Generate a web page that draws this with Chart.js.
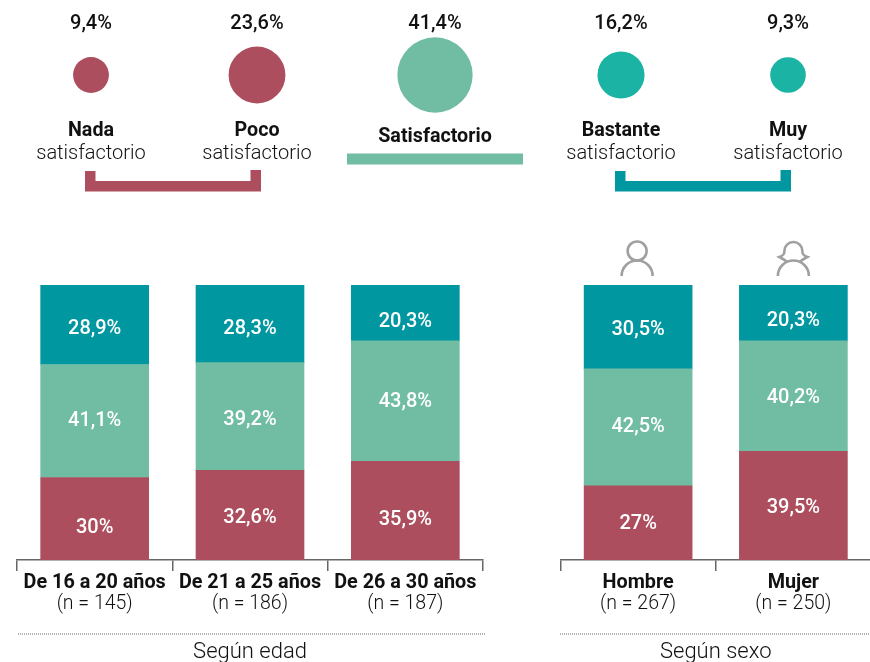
<!DOCTYPE html>
<html lang="es">
<head>
<meta charset="utf-8">
<title>Satisfacción</title>
<script src="https://cdn.jsdelivr.net/npm/chart.js@4"></script>
<style>
html,body{margin:0;padding:0;background:#fff;width:870px;height:662px;overflow:hidden}
canvas{position:absolute;display:block}
</style>
</head>
<body>
<canvas id="top"></canvas>
<canvas id="age"></canvas>
<canvas id="sex"></canvas>
<script>
// ---- data ----
const levelNames = ['Nada', 'Poco', 'Satisfactorio', 'Bastante', 'Muy'];
const levelValues = [9.4, 23.6, 41.4, 16.2, 9.3];

const ageCategories = ['De 16 a 20 años', 'De 21 a 25 años', 'De 26 a 30 años'];
const ageCounts = ['(n = 145)', '(n = 186)', '(n = 187)'];
const ageLow = [30, 32.6, 35.9];
const ageMid = [41.1, 39.2, 43.8];
const ageHigh = [28.9, 28.3, 20.3];

const sexCategories = ['Hombre', 'Mujer'];
const sexCounts = ['(n = 267)', '(n = 250)'];
const sexLow = [27, 39.5];
const sexMid = [42.5, 40.2];
const sexHigh = [30.5, 20.3];

const ageTitle = 'Según edad';
const sexTitle = 'Según sexo';
const subLabel = 'satisfactorio';

// ---- layout & style ----
const RED = '#AC4E5E', GREEN = '#70BDA3', TEAL = '#0097A0', CIRCLE_TEAL = '#1BB3A3';
const levelColors = [RED, RED, GREEN, CIRCLE_TEAL, CIRCLE_TEAL];
const slotCentres = [91, 257, 435, 621, 788];
const ageNudge = [[8, 2, 8], [-1, 3, 0], [3, 4, 8]];
const sexNudge = [[0, 1], [-1, 1], [2, 7]];
const INK = '#111';
const FONT = 'Roboto';
const fmt = v => String(v).replace('.', ',') + '%';
const radiusPerRoot = 5.85;

function place(id, left, top, w, h) {
  const c = document.getElementById(id);
  c.style.left = left + 'px'; c.style.top = top + 'px';
  c.width = w; c.height = h;
  c.style.width = w + 'px'; c.style.height = h + 'px';
  return c;
}
function label(ctx, text, x, y, font, color) {
  ctx.font = font; ctx.fillStyle = color || INK;
  ctx.textAlign = 'center'; ctx.textBaseline = 'middle';
  ctx.fillText(text, x, y);
}

// ---- top row of circles ----
const topDecor = {
  id: 'topDecor',
  afterDatasetsDraw(chart) {
    const ctx = chart.ctx, xs = chart.scales.x;
    ctx.save();
    levelNames.forEach((name, i) => {
      const x = xs.getPixelForValue(slotCentres[i]);
      label(ctx, fmt(levelValues[i]), x, 24, '500 20px ' + FONT);
      if (name === 'Satisfactorio') {
        label(ctx, name, x, 137, '700 19.7px ' + FONT);
      } else {
        label(ctx, name, x, 131, '700 19.7px ' + FONT);
        label(ctx, subLabel, x, 154, '300 20px ' + FONT);
      }
    });
    // brackets grouping the answers
    const bracket = (l, r, color) => {
      ctx.fillStyle = color;
      ctx.fillRect(l, 181, r - l, 10.5);
      ctx.fillRect(l, 171, 10.5, 12);
      ctx.fillRect(r - 10.5, 170, 10.5, 12);
    };
    bracket(85, 261, RED);
    bracket(615, 791, TEAL);
    ctx.fillStyle = GREEN;
    ctx.fillRect(347, 153.5, 176, 11);
    ctx.restore();
  }
};

new Chart(place('top', 0, 0, 870, 200), {
  type: 'bubble',
  data: {
    datasets: [{
      data: levelValues.map((v, i) => ({ x: slotCentres[i], y: 0, v })),
      backgroundColor: levelColors,
      borderWidth: 0,
      hoverBorderWidth: 0,
      radius: c => radiusPerRoot * Math.sqrt(c.raw.v)
    }]
  },
  options: {
    responsive: false, animation: false, clip: false,
    layout: { autoPadding: false, padding: { bottom: 50 } },
    plugins: { legend: { display: false }, tooltip: { enabled: false } },
    scales: {
      x: { type: 'linear', min: 0, max: 870, display: false },
      y: { type: 'linear', min: -1, max: 1, display: false }
    }
  },
  plugins: [topDecor]
});

// ---- stacked bars ----
const barLabels = {
  id: 'barLabels',
  afterDatasetsDraw(chart, a, opts) {
    const ctx = chart.ctx;
    ctx.save();
    chart.data.datasets.forEach((ds, d) => {
      chart.getDatasetMeta(d).data.forEach((bar, i) => {
        const y = (bar.base + bar.y) / 2 + 1 + opts.nudge[d][i];
        label(ctx, fmt(ds.data[i]), bar.x, y, '500 20px ' + FONT, '#fff');
      });
    });
    ctx.restore();
  }
};
const dotted = {
  id: 'dotted',
  afterDraw(chart, a, opts) {
    const ctx = chart.ctx, xs = chart.scales.x;
    ctx.save();
    ctx.strokeStyle = '#9a9a9a'; ctx.lineWidth = 1.5; ctx.setLineDash([1, 1]);
    ctx.beginPath();
    const y = chart.height - 28;
    ctx.moveTo(Math.round(xs.left) + opts.dx, y); ctx.lineTo(xs.right + 3, y);
    ctx.stroke();
    ctx.restore();
  }
};
const person = {
  id: 'person',
  afterDraw(chart) {
    const ctx = chart.ctx, xs = chart.scales.x, top = chart.chartArea.top;
    const shoulders = (x) => { ctx.beginPath(); ctx.arc(x, top - 9, 15.5, Math.PI, 0); ctx.stroke(); };
    ctx.save();
    ctx.strokeStyle = '#a0a0a0'; ctx.lineWidth = 2.6;
    // man
    let x = xs.getPixelForValue(0) - 1;
    ctx.beginPath(); ctx.arc(x, top - 34, 9.5, 0, Math.PI * 2); ctx.stroke();
    shoulders(x);
    // woman
    x = xs.getPixelForValue(1);
    shoulders(x);
    ctx.beginPath();
    ctx.moveTo(x - 6, top - 23);
    ctx.quadraticCurveTo(x - 10, top - 26, x - 14, top - 28);
    ctx.quadraticCurveTo(x - 8.5, top - 30, x - 9, top - 34);
    ctx.arc(x, top - 34, 9, Math.PI, 0);
    ctx.quadraticCurveTo(x + 8.5, top - 30, x + 14, top - 28);
    ctx.quadraticCurveTo(x + 10, top - 26, x + 6, top - 23);
    ctx.stroke();
    ctx.restore();
  }
};

function barChart(id, left, width, pad, categories, counts, low, mid, high, title, nudge, dx, extra) {
  return new Chart(place(id, left, 235, width, 427), {
    type: 'bar',
    data: {
      labels: categories,
      datasets: [
        { label: 'Nada o poco', data: low, backgroundColor: RED },
        { label: 'Satisfactorio', data: mid, backgroundColor: GREEN },
        { label: 'Bastante o muy', data: high, backgroundColor: TEAL }
      ]
    },
    options: {
      responsive: false, animation: false,
      layout: { padding: pad },
      datasets: { bar: { barThickness: 108, borderWidth: 0 } },
      plugins: { legend: { display: false }, tooltip: { enabled: false }, barLabels: { nudge }, dotted: { dx } },
      scales: {
        y: { display: false, stacked: true, min: 0, max: 100 },
        x: {
          stacked: true,
          afterFit: s => { s.height = 32; },
          border: { display: true, color: '#666', width: 1.5 },
          grid: { offset: true, drawOnChartArea: false, drawTicks: true, tickLength: 11, color: '#666', lineWidth: 1.5 },
          ticks: { color: INK, padding: 0, maxRotation: 0, autoSkip: false, font: { family: FONT, size: 19.8, weight: '700' } }
        },
        x2: {
          type: 'category', labels: counts, position: 'bottom',
          afterFit: s => { s.height = 70; },
          border: { display: false },
          grid: { display: false, drawTicks: false },
          ticks: { color: INK, padding: 0, maxRotation: 0, autoSkip: false, font: { family: FONT, size: 19.5, weight: '300' } },
          title: { display: true, text: title, color: INK, padding: { top: 0, bottom: -4 }, font: { family: FONT, size: 22, weight: '300' } }
        }
      }
    },
    plugins: [barLabels, dotted].concat(extra || [])
  });
}

barChart('age', 7, 486, { top: 50, left: 10, right: 10, bottom: 0 },
  ageCategories, ageCounts, ageLow, ageMid, ageHigh, ageTitle, ageNudge, 1);
barChart('sex', 550, 322, { top: 50, left: 10.5, right: 1, bottom: 0 },
  sexCategories, sexCounts, sexLow, sexMid, sexHigh, sexTitle, sexNudge, -1, [person]);
</script>
</body>
</html>
